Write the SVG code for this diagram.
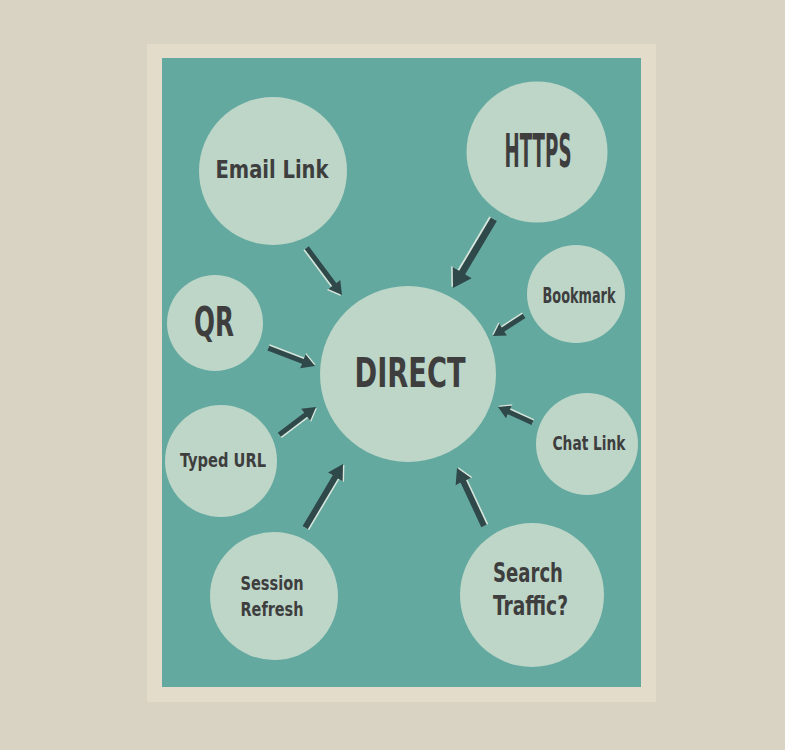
<svg xmlns="http://www.w3.org/2000/svg" width="785" height="750" viewBox="0 0 785 750">
<style>
.node{fill:#bdd6c8}
.lbl{font-family:"DejaVu Sans Condensed","DejaVu Sans","Liberation Sans Narrow",sans-serif;font-weight:bold;fill:#3e3e3e;text-anchor:middle}
.arr{fill:#2f4849}
.hl{fill:#d6e6dc}
</style>
<defs>
<path id="a-s" d="M-L"/>
</defs>
<rect width="785" height="750" fill="#d9d3c3"/>
<rect x="147" y="44" width="509" height="658" fill="#e3dccb"/>
<rect x="162" y="58" width="479" height="629" fill="#64a99f"/>

<g id="connectors">
<!-- Email -> DIRECT -->
<g transform="translate(342,295) rotate(53.3)">
<path class="hl" transform="translate(0,1.6)" d="M-59,-2.5 L-13,-2.5 L-13,-7.5 L0,0 L-13,7.5 L-13,2.5 L-59,2.5 Z"/>
<path class="arr" d="M-59,-2.5 L-13,-2.5 L-13,-7.5 L0,0 L-13,7.5 L-13,2.5 L-59,2.5 Z"/>
</g>
<!-- HTTPS -> DIRECT -->
<g transform="translate(453,288) rotate(120.7)">
<path class="hl" transform="translate(0,1.8)" d="M-80,-3.5 L-18,-3.5 L-18,-11 L0,0 L-18,11 L-18,3.5 L-80,3.5 Z"/>
<path class="arr" d="M-80,-3.5 L-18,-3.5 L-18,-11 L0,0 L-18,11 L-18,3.5 L-80,3.5 Z"/>
</g>
<!-- Bookmark -> DIRECT -->
<g transform="translate(493,336) rotate(147.2)">
<path class="hl" transform="translate(0,1.5)" d="M-37,-2.5 L-12,-2.5 L-12,-7 L0,0 L-12,7 L-12,2.5 L-37,2.5 Z"/>
<path class="arr" d="M-37,-2.5 L-12,-2.5 L-12,-7 L0,0 L-12,7 L-12,2.5 L-37,2.5 Z"/>
</g>
<!-- QR -> DIRECT -->
<g transform="translate(315,366) rotate(21)">
<path class="hl" transform="translate(0,-1.5)" d="M-50,-2.5 L-13,-2.5 L-13,-7.5 L0,0 L-13,7.5 L-13,2.5 L-50,2.5 Z"/>
<path class="arr" d="M-50,-2.5 L-13,-2.5 L-13,-7.5 L0,0 L-13,7.5 L-13,2.5 L-50,2.5 Z"/>
</g>
<!-- Typed URL -> DIRECT -->
<g transform="translate(316,407) rotate(-37.1)">
<path class="hl" transform="translate(0,1.5)" d="M-46,-2.5 L-13,-2.5 L-13,-7.5 L0,0 L-13,7.5 L-13,2.5 L-46,2.5 Z"/>
<path class="arr" d="M-46,-2.5 L-13,-2.5 L-13,-7.5 L0,0 L-13,7.5 L-13,2.5 L-46,2.5 Z"/>
</g>
<!-- Chat Link -> DIRECT -->
<g transform="translate(498,407) rotate(204.6)">
<path class="hl" transform="translate(0,1.5)" d="M-38,-2.5 L-12,-2.5 L-12,-7 L0,0 L-12,7 L-12,2.5 L-38,2.5 Z"/>
<path class="arr" d="M-38,-2.5 L-12,-2.5 L-12,-7 L0,0 L-12,7 L-12,2.5 L-38,2.5 Z"/>
</g>
<!-- Session Refresh -> DIRECT -->
<g transform="translate(343,464) rotate(-59.3)">
<path class="hl" transform="translate(0,1.6)" d="M-74,-3 L-15,-3 L-15,-8.5 L0,0 L-15,8.5 L-15,3 L-74,3 Z"/>
<path class="arr" d="M-74,-3 L-15,-3 L-15,-8.5 L0,0 L-15,8.5 L-15,3 L-74,3 Z"/>
</g>
<!-- Search Traffic -> DIRECT -->
<g transform="translate(457,468) rotate(-115)">
<path class="hl" transform="translate(0,1.6)" d="M-64,-3 L-15,-3 L-15,-8.5 L0,0 L-15,8.5 L-15,3 L-64,3 Z"/>
<path class="arr" d="M-64,-3 L-15,-3 L-15,-8.5 L0,0 L-15,8.5 L-15,3 L-64,3 Z"/>
</g>
</g>

<g id="direct">
<circle class="node" cx="408" cy="374" r="88"/>
<text class="lbl" x="410" y="387" font-size="41" textLength="111" lengthAdjust="spacingAndGlyphs">DIRECT</text>
</g>
<g id="email-link">
<circle class="node" cx="273" cy="171" r="74"/>
<text class="lbl" x="272" y="178" font-size="25" textLength="113" lengthAdjust="spacingAndGlyphs">Email Link</text>
</g>
<g id="https">
<circle class="node" cx="537" cy="152" r="70.5"/>
<text class="lbl" x="538" y="167" font-size="46" textLength="67" lengthAdjust="spacingAndGlyphs">HTTPS</text>
</g>
<g id="bookmark">
<circle class="node" cx="576" cy="294" r="49"/>
<text class="lbl" x="579" y="303" font-size="21" textLength="73" lengthAdjust="spacingAndGlyphs">Bookmark</text>
</g>
<g id="qr">
<circle class="node" cx="215" cy="323" r="48"/>
<text class="lbl" x="214" y="336" font-size="40" textLength="40" lengthAdjust="spacingAndGlyphs">QR</text>
</g>
<g id="typed-url">
<circle class="node" cx="221" cy="461" r="56"/>
<text class="lbl" x="223" y="467" font-size="20" textLength="86" lengthAdjust="spacingAndGlyphs">Typed URL</text>
</g>
<g id="chat-link">
<circle class="node" cx="587" cy="444" r="51"/>
<text class="lbl" x="589" y="450" font-size="19" textLength="73" lengthAdjust="spacingAndGlyphs">Chat Link</text>
</g>
<g id="session-refresh">
<circle class="node" cx="274" cy="596" r="64"/>
<text class="lbl" x="272" y="590" font-size="19" textLength="63" lengthAdjust="spacingAndGlyphs">Session</text>
<text class="lbl" x="272" y="616" font-size="19" textLength="63" lengthAdjust="spacingAndGlyphs">Refresh</text>
</g>
<g id="search-traffic">
<circle class="node" cx="532" cy="595" r="72"/>
<text class="lbl" x="528" y="582" font-size="26" textLength="70" lengthAdjust="spacingAndGlyphs">Search</text>
<text class="lbl" x="530.5" y="615" font-size="26" textLength="75" lengthAdjust="spacingAndGlyphs">Traffic?</text>
</g>
</svg>
